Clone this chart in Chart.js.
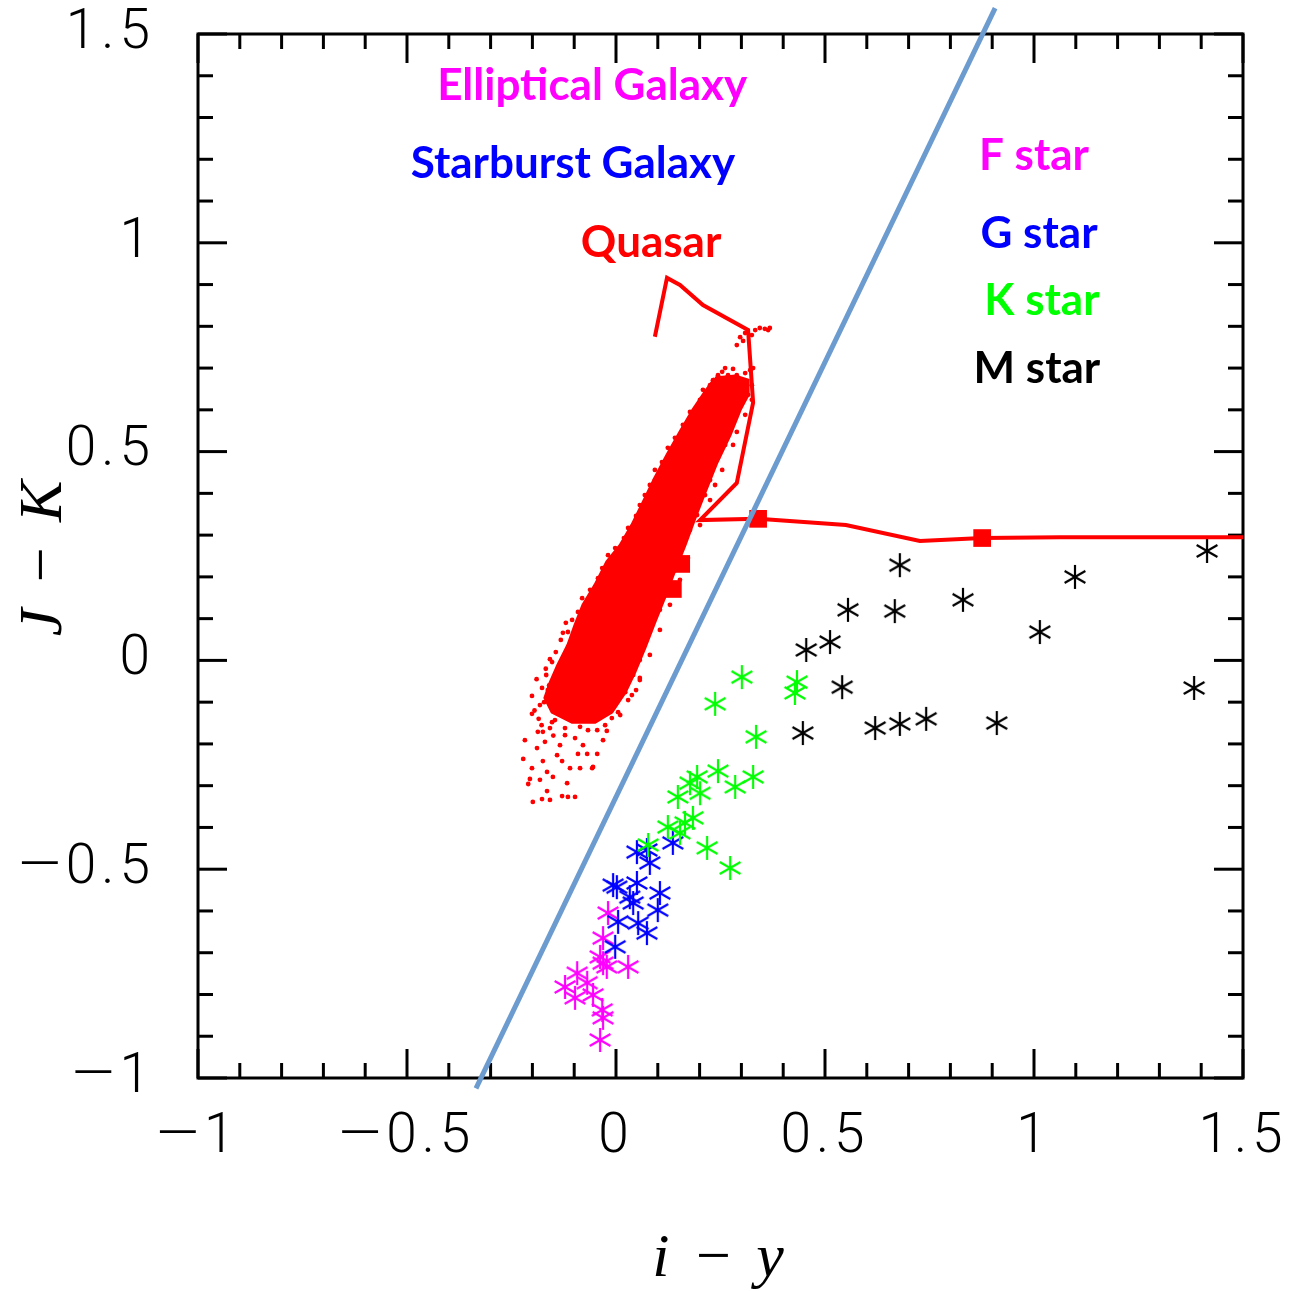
<!DOCTYPE html>
<html><head><meta charset="utf-8">
<script src="https://cdn.jsdelivr.net/npm/chart.js@4.4.0/dist/chart.umd.min.js"></script>
<style>html,body{margin:0;padding:0;background:#fff;} canvas{display:block;}</style>
</head><body>
<canvas id="c" width="1295" height="1291"></canvas>
<script>
// ---------- axis ticks ----------
const xMajorTicks = [-1, -0.5, 0, 0.5, 1, 1.5];
const xTickLabels = ['\u20141', '\u20140.5', '0', '0.5', '1', '1.5'];
const yMajorTicks = [-1, -0.5, 0, 0.5, 1, 1.5];
const yTickLabels = ['\u20141', '\u20140.5', '0', '0.5', '1', '1.5'];
const xMinorTicks = [-0.9,-0.8,-0.7,-0.6,-0.4,-0.3,-0.2,-0.1,0.1,0.2,0.3,0.4,0.6,0.7,0.8,0.9,1.1,1.2,1.3,1.4];
const yMinorTicks = [-0.9,-0.8,-0.7,-0.6,-0.4,-0.3,-0.2,-0.1,0.1,0.2,0.3,0.4,0.6,0.7,0.8,0.9,1.1,1.2,1.3,1.4];
const xTitle = 'i\u2009\u2212\u2009y';
const yTitle = 'J\u2009\u2212\u2009K';

// ---------- separating line ----------
const cutLineX = [-0.335, 0.907];
const cutLineY = [-1.025, 1.562];

// ---------- quasar track ----------
const trackX = [0.093,0.122,0.153,0.208,0.316,0.328,0.289,0.201,0.340,0.550,0.727,0.876,1.062,1.5];
const trackY = [0.775,0.916,0.899,0.851,0.791,0.617,0.425,0.336,0.339,0.324,0.286,0.293,0.295,0.295];
const squareX = [0.012,0.069,0.156,0.136,0.340,0.876];
const squareY = [0.231,0.231,0.231,0.171,0.339,0.293];

// ---------- simulated quasar cloud: dense core outline ----------
const coreX = [0.237,0.285,0.316,0.316,0.297,0.273,0.242,0.213,0.189,0.165,0.141,0.117,0.093,0.069,0.045,0.022,-0.010,-0.050,-0.105,-0.153,-0.170,-0.158,-0.139,-0.115,-0.098,-0.079,-0.050,-0.022,0.010,0.038,0.065,0.093,0.122,0.153,0.184,0.213,0.237];
const coreY = [0.676,0.681,0.671,0.636,0.600,0.540,0.475,0.403,0.341,0.276,0.216,0.152,0.092,0.030,-0.028,-0.076,-0.124,-0.148,-0.148,-0.124,-0.090,-0.054,-0.011,0.037,0.085,0.133,0.181,0.236,0.276,0.324,0.379,0.437,0.492,0.547,0.600,0.643,0.676];

// ---------- simulated quasar cloud: individual dots ----------
const cloudX = [-0.218,-0.189,-0.222,-0.175,-0.141,-0.129,-0.091,-0.069,-0.045,-0.110,-0.086,-0.057,-0.201,-0.165,-0.206,-0.182,-0.151,-0.210,-0.117,-0.165,-0.199,-0.177,-0.158,-0.129,-0.115,-0.098,-0.055,-0.045,-0.022,-0.067,-0.187,-0.175,-0.201,-0.201,-0.158,-0.120,-0.127,-0.074,-0.045,
 -0.146,-0.122,-0.098,-0.170,-0.010,0.005,0.029,0.048,0.057,-0.031,-0.079,-0.134,-0.158,-0.144,-0.163,-0.134,-0.105,-0.091,-0.062,-0.029,-0.010,0.014,0.041,0.057,0.077,0.093,0.124,0.141,0.158,0.182,0.201,0.215,0.232,0.244,0.268,0.289,0.309,0.321,0.301,0.280,0.325,0.316,0.297,0.278,0.261,0.244,0.225,0.213,0.194,0.177,0.153,0.141,0.124,0.105,0.081,0.057,0.041,0.022,
 0.177,0.160,0.141,0.124,0.110,0.093,0.081,0.069,0.057,0.048,0.029,0.019,-0.002,-0.019,-0.033,-0.043,-0.062,-0.081,-0.091,-0.105,-0.115,-0.132,-0.144,-0.153,-0.167,-0.177,-0.182,
 0.325,0.309,0.289,0.280,0.254,0.237,0.225,0.201,0.172,0.153,0.129,0.105,0.081,0.057,0.038,
 0.010,-0.026,-0.086,-0.122,-0.153,0.225,0.208,0.254,0.261,0.280,0.328,
 -0.190,-0.185,-0.172,-0.160,-0.178,-0.150,-0.195,-0.168,
 0.289,0.297,0.309,0.333,0.344,0.356,0.364,0.368,0.325,0.304];
const cloudY = [-0.191,-0.210,-0.236,-0.241,-0.227,-0.241,-0.224,-0.224,-0.224,-0.258,-0.258,-0.258,-0.258,-0.267,-0.284,-0.286,-0.279,-0.296,-0.294,-0.313,-0.339,-0.332,-0.334,-0.325,-0.327,-0.327,-0.255,-0.167,-0.169,-0.167,-0.171,-0.171,-0.085,-0.128,0.003,0.090,0.066,0.133,0.171,
 -0.143,-0.179,-0.186,-0.195,-0.138,-0.124,-0.095,-0.071,-0.047,-0.191,-0.203,-0.203,-0.162,-0.124,-0.071,-0.023,0.025,0.073,0.145,0.197,0.228,0.269,0.319,0.348,0.389,0.432,0.485,0.509,0.535,0.580,0.624,0.633,0.671,0.683,0.683,0.683,0.688,0.695,0.664,0.676,0.659,0.636,0.612,0.576,0.516,0.485,0.432,0.396,0.348,0.312,0.250,0.216,0.169,0.121,0.068,0.001,-0.035,-0.076,
 0.595,0.564,0.533,0.509,0.475,0.456,0.420,0.396,0.372,0.346,0.317,0.293,0.269,0.252,0.221,0.197,0.169,0.149,0.116,0.097,0.068,0.049,0.020,-0.004,-0.035,-0.066,-0.107,
 0.624,0.588,0.547,0.516,0.456,0.420,0.384,0.324,0.245,0.193,0.133,0.073,0.013,-0.042,-0.083,
 -0.131,-0.155,-0.159,-0.162,-0.148,0.659,0.648,0.691,0.700,0.698,0.700,
 -0.045,-0.140,-0.100,-0.060,-0.155,-0.180,-0.120,-0.020,
 0.755,0.774,0.784,0.791,0.796,0.794,0.791,0.796,0.779,0.765];

// ---------- stars ----------
const fStarX = [-0.019,-0.031,-0.038,-0.031,-0.022,0.029,-0.093,-0.122,-0.069,-0.098,-0.055,-0.033,-0.031,-0.038];
const fStarY = [-0.605,-0.665,-0.710,-0.725,-0.734,-0.734,-0.749,-0.782,-0.772,-0.808,-0.801,-0.837,-0.856,-0.909];
const gStarX = [0.050,0.074,0.136,0.081,-0.007,0.002,0.050,0.033,0.041,0.105,0.100,0.005,0.053,0.074,-0.002];
const gStarY = [-0.459,-0.454,-0.437,-0.485,-0.538,-0.543,-0.533,-0.567,-0.581,-0.557,-0.598,-0.626,-0.629,-0.653,-0.686];
const kStarX = [0.301,0.237,0.433,0.428,0.335,0.244,0.194,0.177,0.328,0.285,0.201,0.148,0.184,0.124,0.153,0.077,0.218,0.273,0.165];
const kStarY = [-0.040,-0.104,-0.052,-0.078,-0.183,-0.265,-0.279,-0.294,-0.279,-0.303,-0.318,-0.327,-0.377,-0.399,-0.413,-0.442,-0.449,-0.497,-0.389];
const mStarX = [0.679,1.098,1.414,0.555,0.667,0.830,0.512,0.455,1.014,0.541,1.383,0.447,0.620,0.679,0.742,0.911];
const mStarY = [0.228,0.200,0.262,0.121,0.118,0.145,0.044,0.025,0.068,-0.064,-0.066,-0.174,-0.162,-0.152,-0.140,-0.150];

// ---------- text labels ----------
const labelTexts = ['Elliptical Galaxy','Starburst Galaxy','Quasar','F star','G star','K star','M star'];

const pts = (xs, ys) => xs.map((x, i) => ({x, y: ys[i]}));

// layout / style (not data)
const labelLayout = {
  colors: ['#ff00ff','#0000ff','#ff0000','#ff00ff','#0000ff','#00ff00','#000000'],
  anchorX: [-0.057,-0.103,0.084,1.000,1.012,1.019,1.007],
  anchorY: [1.342,1.155,0.966,1.174,0.987,0.827,0.664],
  font: 'bold 44px Lato'
};

function asterisk(color, r, lw) {
  const s = Math.ceil(2 * r + 4);
  const c = document.createElement('canvas');
  c.width = s; c.height = s;
  const g = c.getContext('2d');
  g.strokeStyle = color; g.lineWidth = lw;
  const cx = s / 2, cy = s / 2;
  [90, 30, -30].forEach(a => {
    const rad = a * Math.PI / 180;
    const dx = Math.cos(rad) * r, dy = Math.sin(rad) * r;
    g.beginPath(); g.moveTo(cx - dx, cy - dy); g.lineTo(cx + dx, cy + dy); g.stroke();
  });
  return c;
}

const framePlugin = {
  id: 'frame',
  beforeDraw(chart) { chart.ctx.letterSpacing = '5px'; },
  beforeDatasetsDraw(chart) {
    const {ctx, chartArea: a, scales: {x, y}} = chart;
    ctx.save();
    ctx.strokeStyle = '#000'; ctx.lineWidth = 3; ctx.lineCap = 'butt';
    ctx.strokeRect(a.left, a.top, a.right - a.left, a.bottom - a.top);
    const tick = (vals, len) => {
      vals.forEach(v => {
        const px = x.getPixelForValue(v);
        ctx.beginPath(); ctx.moveTo(px, a.bottom); ctx.lineTo(px, a.bottom - len); ctx.stroke();
        ctx.beginPath(); ctx.moveTo(px, a.top); ctx.lineTo(px, a.top + len); ctx.stroke();
      });
    };
    const tickY = (vals, len) => {
      vals.forEach(v => {
        const py = y.getPixelForValue(v);
        ctx.beginPath(); ctx.moveTo(a.left, py); ctx.lineTo(a.left + len, py); ctx.stroke();
        ctx.beginPath(); ctx.moveTo(a.right, py); ctx.lineTo(a.right - len, py); ctx.stroke();
      });
    };
    tick(xMajorTicks, 29); tick(xMinorTicks, 15);
    tickY(yMajorTicks, 29); tickY(yMinorTicks, 15);
    ctx.restore();
  },
  afterDatasetsDraw(chart) {
    const {ctx, scales: {x, y}} = chart;
    ctx.save();
    ctx.letterSpacing = '0px';
    ctx.font = labelLayout.font;
    ctx.textAlign = 'center';
    ctx.textBaseline = 'alphabetic';
    labelTexts.forEach((t, i) => {
      ctx.fillStyle = labelLayout.colors[i];
      ctx.fillText(t, x.getPixelForValue(labelLayout.anchorX[i]), y.getPixelForValue(labelLayout.anchorY[i]));
    });
    ctx.restore();
  }
};

const tickFont = {family: 'Roboto', size: 55, weight: 300};
const titleFont = {family: 'Liberation Serif', style: 'italic', size: 62, lineHeight: 1};

new Chart(document.getElementById('c'), {
  type: 'scatter',
  data: {
    datasets: [
      {label: 'cut', type: 'line', data: pts(cutLineX, cutLineY), borderColor: '#6b9bcf', borderWidth: 5,
       pointRadius: 0, clip: false, order: 0, showLine: true, fill: false},
      {label: 'track', type: 'line', data: pts(trackX, trackY), borderColor: '#ff0000', borderWidth: 4,
       pointRadius: 0, order: 2, showLine: true, fill: false, tension: 0},
      {label: 'redshift', data: pts(squareX, squareY), pointStyle: 'rect', pointRadius: 12.5,
       backgroundColor: '#ff0000', borderColor: '#ff0000', borderWidth: 0, order: 1},
      {label: 'M', data: pts(mStarX, mStarY), pointStyle: asterisk('#000000', 12, 2.2), order: 3},
      {label: 'K', data: pts(kStarX, kStarY), pointStyle: asterisk('#00ff00', 12, 2.2), order: 3},
      {label: 'G', data: pts(gStarX, gStarY), pointStyle: asterisk('#0000ff', 12, 2.2), order: 3},
      {label: 'F', data: pts(fStarX, fStarY), pointStyle: asterisk('#ff00ff', 12, 2.2), order: 3},
      {label: 'cloud', data: pts(cloudX, cloudY), pointStyle: 'circle', pointRadius: 2.4,
       backgroundColor: '#ff0000', borderWidth: 0, order: 4},
      {label: 'core', type: 'line', data: pts(coreX, coreY), borderColor: '#ff0000', borderWidth: 3,
       backgroundColor: '#ff0000', fill: 'shape', pointRadius: 0, showLine: true, tension: 0, order: 5}
    ]
  },
  options: {
    responsive: false, animation: false, devicePixelRatio: 1,
    layout: {padding: {left: 0, top: 34, right: 52, bottom: 0}},
    plugins: {legend: {display: false}, tooltip: {enabled: false}},
    scales: {
      x: {
        type: 'linear', min: -1, max: 1.5, position: 'bottom',
        grid: {display: false}, border: {display: false},
        afterBuildTicks: s => { s.ticks = xMajorTicks.map(v => ({value: v})); },
        ticks: {callback: v => xTickLabels[xMajorTicks.indexOf(v)], font: tickFont, color: '#000',
                padding: 19, maxRotation: 0, autoSkip: false},
        title: {display: true, text: xTitle, font: titleFont, color: '#000', padding: {top: 0, bottom: 0}},
        afterFit: s => { s.height = 213; s.paddingLeft = 0; s.paddingRight = 0; }
      },
      y: {
        type: 'linear', min: -1, max: 1.5, position: 'left',
        grid: {display: false}, border: {display: false},
        afterBuildTicks: s => { s.ticks = yMajorTicks.map(v => ({value: v})); },
        ticks: {callback: v => yTickLabels[yMajorTicks.indexOf(v)], font: tickFont, color: '#000',
                padding: 35, autoSkip: false},
        title: {display: true, text: yTitle, font: titleFont, color: '#000', padding: {top: 14, bottom: 0}},
        afterFit: s => { s.width = 198; s.paddingTop = 0; s.paddingBottom = 0; }
      }
    }
  },
  plugins: [framePlugin]
});
</script>
</body></html>
